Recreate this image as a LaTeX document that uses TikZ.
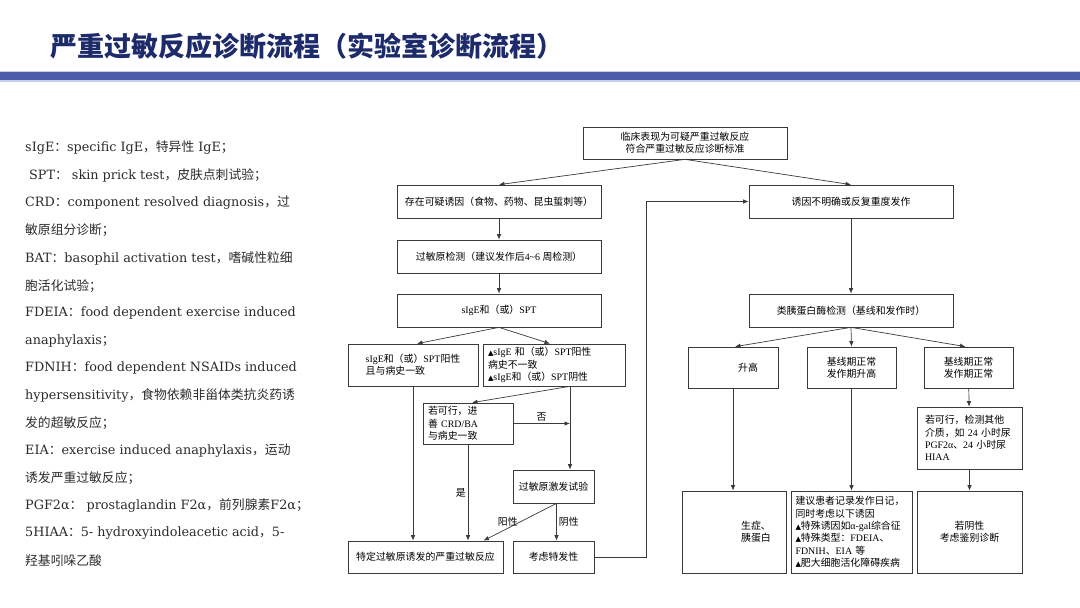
\documentclass[tikz,border=0pt]{standalone}
\usepackage{fontspec}
\setmainfont{DejaVu Serif}
\newfontfamily\cjk{Noto Sans CJK SC}
\newfontfamily\tnr{Liberation Serif}
\newfontfamily\symf{DejaVu Sans}[Scale=0.72]
\usetikzlibrary{arrows.meta, positioning, calc}
\definecolor{TitleBlue}{HTML}{1D2B6B}
\definecolor{BarBlue}{HTML}{4B5DA8}
\definecolor{BarEdge}{HTML}{C9CEE8}
\definecolor{LineGray}{HTML}{3A3A3A}
\definecolor{KeyText}{HTML}{2B2B2B}

% switch to the CJK family for Chinese characters
\XeTeXinterchartokenstate=1
\newXeTeXintercharclass\zhclass
\newcommand\setzh[2]{\count255=#1 \loop\XeTeXcharclass\count255=\zhclass
  \advance\count255 by 1 \ifnum\count255<#2 \repeat}
\setzh{"3000}{"3040}
\setzh{"4E00}{"A000}
\setzh{"FF00}{"FFF0}
\def\latin{\rmfamily}
\XeTeXinterchartoks 0 \zhclass = {\cjk}
\XeTeXinterchartoks 4095 \zhclass = {\cjk}
\XeTeXinterchartoks \zhclass 0 = {\latin}
\XeTeXinterchartoks \zhclass 4095 = {\latin}

\newcommand\flowfont{\tnr\def\latin{\tnr}\fontsize{9.9}{12.3}\selectfont}
\newcommand\tri{{\symf ▲}}

\tikzset{
  box/.style={draw=LineGray, line width=0.7pt, fill=white, inner sep=3pt, align=center, font=\flowfont},
  sz/.style 2 args={minimum width=#1pt, minimum height=#2pt},
  link/.style={->, draw=LineGray, line width=0.7pt},
  tag/.style={font=\flowfont, inner sep=2pt},
  keyline/.style={anchor=west, inner sep=0pt, text=KeyText, font=\fontsize{12.8}{14}\selectfont},
}

\begin{document}
\begin{tikzpicture}[x=1pt, y=-1pt, >={Latex[length=5.5pt, width=4.5pt]}]
    \useasboundingbox (0,0) rectangle (1080,608);

    % Title and bar
    \node (title) [anchor=west, text=TitleBlue, inner sep=0pt,
        font=\cjk\bfseries\fontsize{27}{27}\selectfont] at (50,46) {严重过敏反应诊断流程（实验室诊断流程）};
    \fill[BarEdge] (0,70.5) rectangle (1080,81.5);
    \fill[BarBlue] (0,72) rectangle (1080,80);

    % Abbreviations
    \foreach \ln [count=\i] in {
        sIgE：specific IgE，特异性 IgE；,
        \hspace*{4pt}SPT： skin prick test，皮肤点刺试验；,
        CRD：component resolved diagnosis，过,
        敏原组分诊断；,
        BAT：basophil activation test，嗜碱性粒细,
        胞活化试验；,
        FDEIA：food dependent exercise induced,
        anaphylaxis；,
        FDNIH：food dependent NSAIDs induced,
        hypersensitivity，食物依赖非甾体类抗炎药诱,
        发的超敏反应；,
        EIA：exercise induced anaphylaxis，运动,
        诱发严重过敏反应；,
        PGF2α： prostaglandin F2α，前列腺素F2α；,
        5HIAA：5- hydroxyindoleacetic acid，5-,
        羟基吲哚乙酸} {
        \node (key\i) [keyline] at (25, {148+27.53*(\i-1)}) {\ln};
    }

    % Left branch
    \node (top) [box, sz={204}{32}] at (685,143) {临床表现为可疑严重过敏反应\\符合严重过敏反应诊断标准};
    \node (cause) [box, sz={204}{33}] at (499,201.5) {存在可疑诱因（食物、药物、昆虫蜇刺等）};
    \node (test) [box, sz={204}{33}] at (499,256.5) {过敏原检测（建议发作后4\textasciitilde 6 周检测）};
    \node (sige) [box, sz={204}{33}] at (499,310.5) {sIgE和（或）SPT};
    \node (posA) [box, sz={130}{42}, align=left] at (413,365) {sIgE和（或）SPT阳性\\且与病史一致};
    \node (posB) [box, sz={142}{42}, align=left, text width=132pt] at (554,365)
        {\tri sIgE 和（或）SPT阳性\\病史不一致\\\tri sIgE和（或）SPT阴性};
    \node (crd) [box, sz={90}{41}, align=left, text width=80pt] at (468,423.5) {若可行，进\\善 CRD/BA\\与病史一致};
    \node (chal) [box, sz={81}{33}] at (553.5,486.5) {过敏原激发试验};
    \node (spec) [box, sz={155}{32}] at (425.5,557) {特定过敏原诱发的严重过敏反应};
    \node (idio) [box, sz={81}{32}] at (553.5,557) {考虑特发性};

    % Right branch
    \node (unclear) [box, sz={204}{33}] at (851,201.5) {诱因不明确或反复重度发作};
    \node (tryp) [box, sz={204}{33}] at (851,310.5) {类胰蛋白酶检测（基线和发作时）};
    \node (high) [box, sz={90}{41}] at (733,367.5) {\hspace*{30pt}升高};
    \node (onset) [box, sz={89}{41}] at (851.5,367.5) {基线期正常\\发作期升高};
    \node (normal) [box, sz={89}{41}] at (968.5,367.5) {基线期正常\\发作期正常};
    \node (other) [box, sz={105}{62}, align=left, text width=89pt] at (969.5,438)
        {若可行，检测其他\\介质，如 24 小时尿\\PGF2α、24 小时尿\\HIAA};
    \node (mast) [box, sz={104}{82}, align=left] at (734,532) {\hspace*{44pt}生症、\\\hspace*{44pt}胰蛋白};
    \node (diary) [box, sz={121}{82}, align=left, text width=112pt] at (851.5,532)
        {建议患者记录发作日记，\\同时考虑以下诱因\\\tri 特殊诱因如α-gal综合征\\\tri 特殊类型：FDEIA、\\FDNIH、EIA 等\\\tri 肥大细胞活化障碍疾病};
    \node (diff) [box, sz={105}{82}] at (969.5,532) {若阴性\\考虑鉴别诊断};

    % Connectors, left
    \draw[link] (top.south) -- (cause.north);
    \draw[link] (top.south) -- (unclear.north);
    \draw[link] (cause) -- (test);
    \draw[link] (test) -- (sige);
    \draw[link] (sige.south) -- ([xshift=4pt]posA.north);
    \draw[link] (sige.south) -- ([xshift=-4pt]posB.north);
    \coordinate (bsplit) at ([xshift=16pt]posB.south);
    \draw[link] (bsplit) -- ([xshift=4pt]crd.north);
    \draw[link] (bsplit) -- (bsplit |- chal.north);
    \draw[link] (crd.east) -- (crd.east -| bsplit) node[midway, above, tag] {否};
    \draw[link] (posA.south) -- (posA.south |- spec.north);
    \draw[link] (crd.south) -- (crd.south |- spec.north) node[midway, left, tag] {是};
    \draw[link] ([xshift=3pt]chal.south) -- ([xshift=58pt]spec.north) node[midway, left, tag] {阳性};
    \draw[link] ([xshift=3pt]chal.south) -- ([xshift=3pt]idio.north) node[midway, right, tag] {阴性};
    \draw[link] (idio.east) -- ++(52,0) |- (unclear.west);

    % Connectors, right
    \draw[link] (unclear) -- (tryp);
    \draw[link] (tryp.south) -- ([xshift=2pt]high.north);
    \draw[link] (tryp.south) -- (onset.north);
    \draw[link] (tryp.south) -- ([xshift=-3pt]normal.north);
    \draw[link] (high.south) -- (high.south |- mast.north);
    \draw[link] (onset) -- (diary);
    \draw[link] (normal) -- (other);
    \draw[link] (other) -- (diff);
\end{tikzpicture}
\end{document}
